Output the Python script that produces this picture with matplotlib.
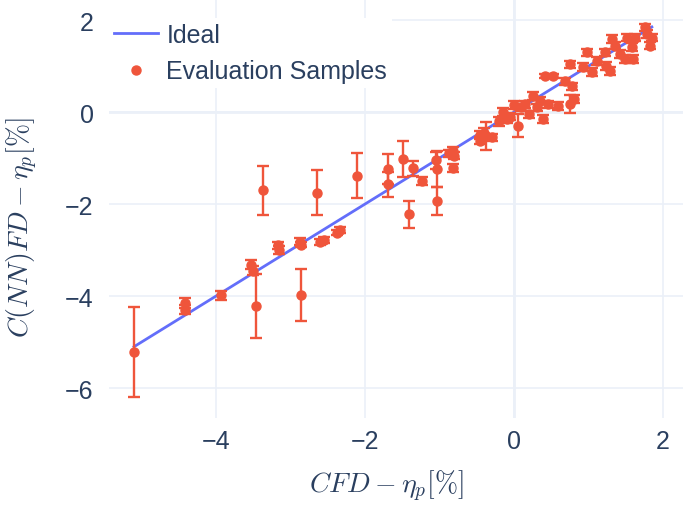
import matplotlib
matplotlib.use('Agg')
import matplotlib.pyplot as plt
from matplotlib.lines import Line2D

# ── Data ──────────────────────────────────────────────────────────────────
cfd = [-5.10, -4.42, -4.42, -3.93, -3.53, -3.51, -3.46, -3.37, -3.17, -3.16,
       -2.87, -2.86, -2.86, -2.64, -2.60, -2.55, -2.38, -2.33, -2.11, -1.69,
       -1.69, -1.49, -1.41, -1.35, -1.23, -1.03, -1.03, -1.05, -0.87, -0.82,
       -0.80, -0.82, -0.45, -0.40, -0.37, -0.30, -0.45, -0.20, -0.15, -0.10,
       -0.05, 0.05, 0.00, 0.10, 0.15, 0.20, 0.26, 0.31, 0.35, 0.39,
       0.46, 0.42, 0.52, 0.59, 0.68, 0.75, 0.78, 0.80, 0.75, 0.93,
       0.98, 1.04, 1.11, 1.22, 1.24, 1.29, 1.31, 1.36, 1.42, 1.49,
       1.51, 1.58, 1.60, 1.62, 1.76, 1.85, 1.83, 1.78]
cnnfd = [-5.22, -4.15, -4.30, -3.98, -3.32, -3.45, -4.22, -1.70, -2.90, -3.00,
         -2.82, -2.88, -3.98, -1.75, -2.82, -2.78, -2.62, -2.56, -1.38, -1.24,
         -1.57, -1.02, -2.22, -1.22, -1.50, -1.24, -1.93, -1.05, -0.90, -0.85,
         -0.95, -1.22, -0.50, -0.45, -0.52, -0.55, -0.62, -0.20, 0.00, -0.15,
         -0.10, -0.30, 0.15, 0.10, 0.17, -0.05, 0.35, 0.10, 0.25, -0.15,
         0.17, 0.78, 0.78, 0.13, 0.67, 1.04, 0.56, 0.28, 0.17, 0.98,
         1.30, 0.87, 1.11, 1.30, 1.00, 0.89, 1.59, 1.44, 1.26, 1.15,
         1.62, 1.41, 1.15, 1.62, 1.84, 1.62, 1.44, 1.70]
err = [0.98, 0.10, 0.10, 0.10, 0.10, 0.10, 0.70, 0.53, 0.08, 0.08,
       0.08, 0.06, 0.56, 0.48, 0.06, 0.06, 0.06, 0.06, 0.49, 0.33,
       0.27, 0.40, 0.29, 0.16, 0.08, 0.40, 0.30, 0.18, 0.08, 0.08,
       0.08, 0.08, 0.08, 0.10, 0.30, 0.08, 0.08, 0.10, 0.08, 0.08,
       0.08, 0.25, 0.08, 0.08, 0.08, 0.08, 0.08, 0.08, 0.08, 0.08,
       0.08, 0.05, 0.05, 0.08, 0.08, 0.08, 0.08, 0.08, 0.20, 0.08,
       0.08, 0.08, 0.08, 0.08, 0.08, 0.08, 0.08, 0.08, 0.08, 0.08,
       0.08, 0.08, 0.08, 0.08, 0.08, 0.08, 0.08, 0.08]
ideal = [-5.10, 1.85]

x_ticks = [-4, -2, 0, 2]
y_ticks = [-6, -4, -2, 0, 2]

# ── Style (plotly_white look) ─────────────────────────────────────────────
LINE_C = '#636EFA'
PT_C = '#EF553B'
GRID_C = '#EBF0F8'
TEXT_C = '#2a3f5f'

plt.rcParams['font.family'] = ['Liberation Sans', 'DejaVu Sans']
plt.rcParams['mathtext.fontset'] = 'cm'

fig = plt.figure(figsize=(6.83, 5.06), dpi=100)
ax = fig.add_axes([109 / 683, 87 / 506, 1 - 109 / 683, 419 / 506])

ax.plot(ideal, ideal, color=LINE_C, lw=2, zorder=3)
ax.errorbar(cfd, cnnfd, yerr=err, fmt='o', color=PT_C, ms=6.5,
            elinewidth=1.7, capsize=4.3, capthick=1.7, zorder=4)

ax.set_xlim(-5.436, 2.268)
ax.set_ylim(-6.65, 2.457)
ax.set_xticks(x_ticks)
ax.set_yticks(y_ticks)
ax.set_xticklabels([f'{t:d}'.replace('-', '\u2212') for t in x_ticks])
ax.set_yticklabels([f'{t:d}'.replace('-', '\u2212') for t in y_ticks])
ax.tick_params(axis='x', length=0, labelsize=18, colors=TEXT_C, pad=8)
ax.tick_params(axis='y', length=0, labelsize=18, colors=TEXT_C, pad=11)
ax.grid(True, color=GRID_C, lw=1.2, zorder=0)
ax.axhline(0, color=GRID_C, lw=2, zorder=0.5)
ax.axvline(0, color=GRID_C, lw=2, zorder=0.5)
ax.set_axisbelow(True)
for s in ax.spines.values():
    s.set_visible(False)

ax.set_xlabel(r'$CFD - \eta_p[\%]$', fontsize=20, color=TEXT_C)
ax.set_ylabel(r'$C(NN)FD - \eta_p[\%]$', fontsize=20, color=TEXT_C)
ax.xaxis.set_label_coords((386 - 109) / 574, -(486 - 419) / 419, transform=ax.transAxes)
ax.xaxis.label.set_va('center')
ax.yaxis.set_label_coords(-(109 - 22) / 574, (419 - 228) / 419, transform=ax.transAxes)
ax.yaxis.label.set_va('center')

handles = [Line2D([], [], color=LINE_C, lw=2),
           Line2D([], [], color=PT_C, marker='o', ls='none', ms=6.5)]
leg = ax.legend(handles, ['Ideal', 'Evaluation Samples'],
                loc='upper left', bbox_to_anchor=(0.0, 0.955), frameon=True,
                fontsize=18, labelcolor=TEXT_C, handlelength=1.75,
                handletextpad=0.35, borderaxespad=0.0, borderpad=0.2,
                labelspacing=0.5, fancybox=False)
leg.get_frame().set_facecolor('white')
leg.get_frame().set_edgecolor('none')
leg.get_frame().set_alpha(1.0)

fig.savefig('out.png', dpi=100, facecolor='white')
